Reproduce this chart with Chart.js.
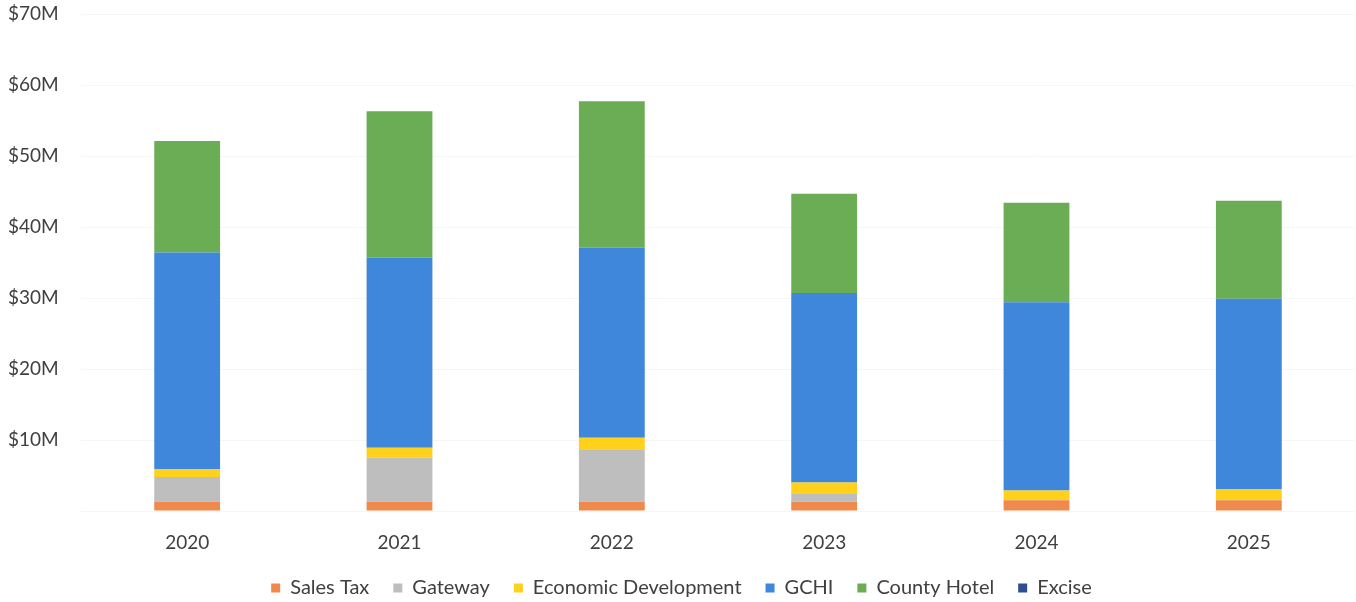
<!DOCTYPE html>
<html>
<head>
<meta charset="utf-8">
<title>Revenue by Source</title>
<script src="https://cdn.jsdelivr.net/npm/chart.js@4/dist/chart.umd.min.js"></script>
<style>
  html, body { margin: 0; padding: 0; background: #fff; }
  #wrap { width: 1356px; height: 602px; }
</style>
</head>
<body>
<div id="wrap"><canvas id="revenueChart" width="1356" height="602"></canvas></div>
<script>
// Years on the x axis
const years = ["2020", "2021", "2022", "2023", "2024", "2025"];

// Revenue per source, in $ millions
const salesTax = [1.3, 1.3, 1.3, 1.3, 1.5, 1.5];
const gateway = [3.5, 6.2, 7.4, 1.1, 0, 0];
const economicDev = [1.1, 1.4, 1.6, 1.6, 1.4, 1.6];
const gchi = [30.5, 26.8, 26.8, 26.7, 26.5, 26.8];
const countyHotel = [15.7, 20.6, 20.6, 14.0, 14.0, 13.8];
const excise = [0, 0, 0, 0, 0, 0];

const seriesNames = ["Sales Tax", "Gateway", "Economic Development", "GCHI", "County Hotel", "Excise"];
const seriesColors = ["#EF8A4C", "#BEBEBE", "#FFD11A", "#3F87DB", "#6BAD55", "#2E4F8E"];

const FONT = "Lato, 'Open Sans', sans-serif";

const datasets = [salesTax, gateway, economicDev, gchi, countyHotel, excise].map((vals, i) => ({
    label: seriesNames[i],
    data: vals,
    backgroundColor: seriesColors[i],
    borderWidth: 0,
    categoryPercentage: 1,
    barPercentage: 0.31
}));

new Chart(document.getElementById("revenueChart"), {
    type: "bar",
    data: { labels: years, datasets },
    options: {
        responsive: false,
        animation: false,
        layout: { padding: { top: 0, left: 8, right: 1, bottom: -6 } },
        plugins: {
            tooltip: { enabled: false },
            legend: {
                position: "bottom",
                labels: {
                    font: { family: FONT, size: 20 },
                    color: "#404040",
                    boxWidth: 9,
                    boxHeight: 9,
                    padding: 24
                }
            }
        },
        scales: {
            x: {
                stacked: true,
                grid: { display: false },
                border: { display: false },
                // keep the legend close under the year labels
                afterFit: (scale) => { scale.height = 43; },
                ticks: {
                    font: { family: FONT, size: 19 },
                    color: "#404040",
                    padding: 12
                }
            },
            y: {
                stacked: true,
                min: 0,
                max: 70,
                afterFit: (scale) => {
                    scale.width = 73;
                    scale.paddingTop = 14;
                },
                grid: { color: "#f6f6f6", drawTicks: false },
                border: { display: false },
                ticks: {
                    stepSize: 10,
                    crossAlign: "far",
                    padding: 8,
                    font: { family: FONT, size: 19 },
                    color: "#404040",
                    callback: (v) => v === 0 ? "" : "$" + v + "M"
                }
            }
        }
    }
});
</script>
</body>
</html>
